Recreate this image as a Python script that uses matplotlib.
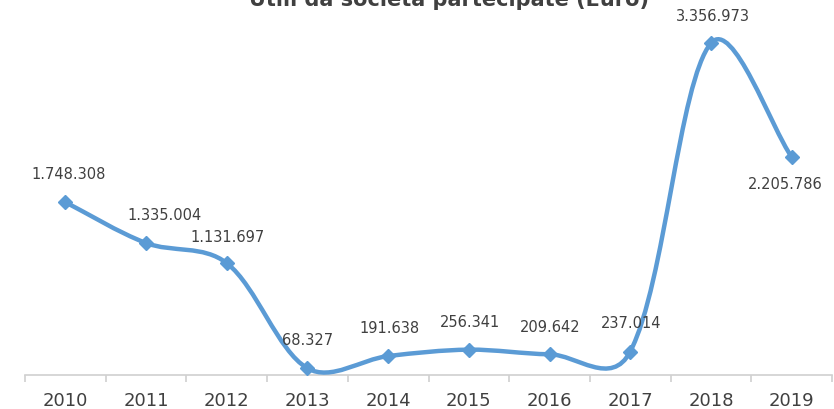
import matplotlib
matplotlib.use("Agg")
import matplotlib.pyplot as plt
from matplotlib.path import Path
from matplotlib.patches import PathPatch
import numpy as np

years = ["2010", "2011", "2012", "2013", "2014", "2015", "2016", "2017", "2018", "2019"]
values = [1748308, 1335004, 1131697, 68327, 191638, 256341, 209642, 237014, 3356973, 2205786]
labels = ["1.748.308", "1.335.004", "1.131.697", "68.327", "191.638", "256.341",
          "209.642", "237.014", "3.356.973", "2.205.786"]
title = "Utili da società partecipate (Euro)"

# label offsets in pixels (dx, dy) relative to marker
label_offsets = [(3, 28), (19, 28), (1, 26), (0, 28), (1, 28), (1, 27),
                 (1, 27), (1, 28), (2, 27), (-6, -28)]

W, H = 834, 409
fig = plt.figure(figsize=(W / 100, H / 100), dpi=100)
left_px, right_px, bottom_px, top_px = 25, 832, 375, 29
ax = fig.add_axes([left_px / W, 1 - bottom_px / H, (right_px - left_px) / W, (bottom_px - top_px) / H])

line_color = "#5B9BD5"
n = len(values)
xs = np.arange(n, dtype=float)
ys = np.array(values, dtype=float)

ax.set_xlim(-0.5, n - 0.5)
ax.set_ylim(0, 3500000)

# Smoothed line: Bezier control points (blend of uniform and length-weighted tangents),
# computed in display space and converted back to data space
disp = ax.transData.transform(np.column_stack([xs, ys]))
inv = ax.transData.inverted()
ctrl_out, ctrl_in = [], []
for i in range(n):
    pp = disp[max(i - 1, 0)]
    pc = disp[i]
    pn = disp[min(i + 1, n - 1)]
    tang = pn - pp
    dp = np.linalg.norm(pc - pp)
    dn = np.linalg.norm(pn - pc)
    tot = dp + dn if dp + dn > 0 else 1.0
    ctrl_out.append(pc + 0.5 * tang / 6.0 + 0.5 * tang * (dn / tot) / 3.0)
    ctrl_in.append(pc - 0.5 * tang / 6.0 - 0.5 * tang * (dp / tot) / 3.0)
verts = [tuple(disp[0])]
codes = [Path.MOVETO]
for i in range(n - 1):
    verts += [tuple(ctrl_out[i]), tuple(ctrl_in[i + 1]), tuple(disp[i + 1])]
    codes += [Path.CURVE4, Path.CURVE4, Path.CURVE4]
verts_data = inv.transform(np.array(verts))
patch = PathPatch(Path(verts_data, codes), facecolor="none", edgecolor=line_color,
                  lw=3.2, capstyle="round", joinstyle="round", clip_on=False, zorder=3)
ax.add_patch(patch)
ax.plot(xs, ys, linestyle="none", marker="D", markersize=7.5, color=line_color,
        clip_on=False, zorder=4)

for x, y, lab, (dx, dy) in zip(xs, ys, labels, label_offsets):
    ax.annotate(lab, (x, y), xytext=(dx * 0.72, dy * 0.72), textcoords="offset points",
                ha="center", va="center", fontsize=10.5, color="#404040",
                family="DejaVu Sans", annotation_clip=False)

for s in ["left", "right", "top"]:
    ax.spines[s].set_visible(False)
ax.spines["bottom"].set_color("#D0D0D0")
ax.spines["bottom"].set_linewidth(1.2)
ax.set_yticks([])
ax.set_xticks(np.arange(-0.5, n, 1.0))
ax.set_xticklabels([])
ax.tick_params(axis="x", which="major", length=5, width=1.2, color="#D0D0D0")
ax.set_xticks(xs, minor=True)
ax.set_xticklabels(years, minor=True)
ax.tick_params(axis="x", which="minor", length=0, pad=12, labelsize=13, labelcolor="#404040")

fig.text(449 / W, 1 - 6.5 / H, title, ha="center", va="baseline", fontsize=15,
         fontweight="bold", color="#404040")

fig.savefig("out.png", dpi=100)
